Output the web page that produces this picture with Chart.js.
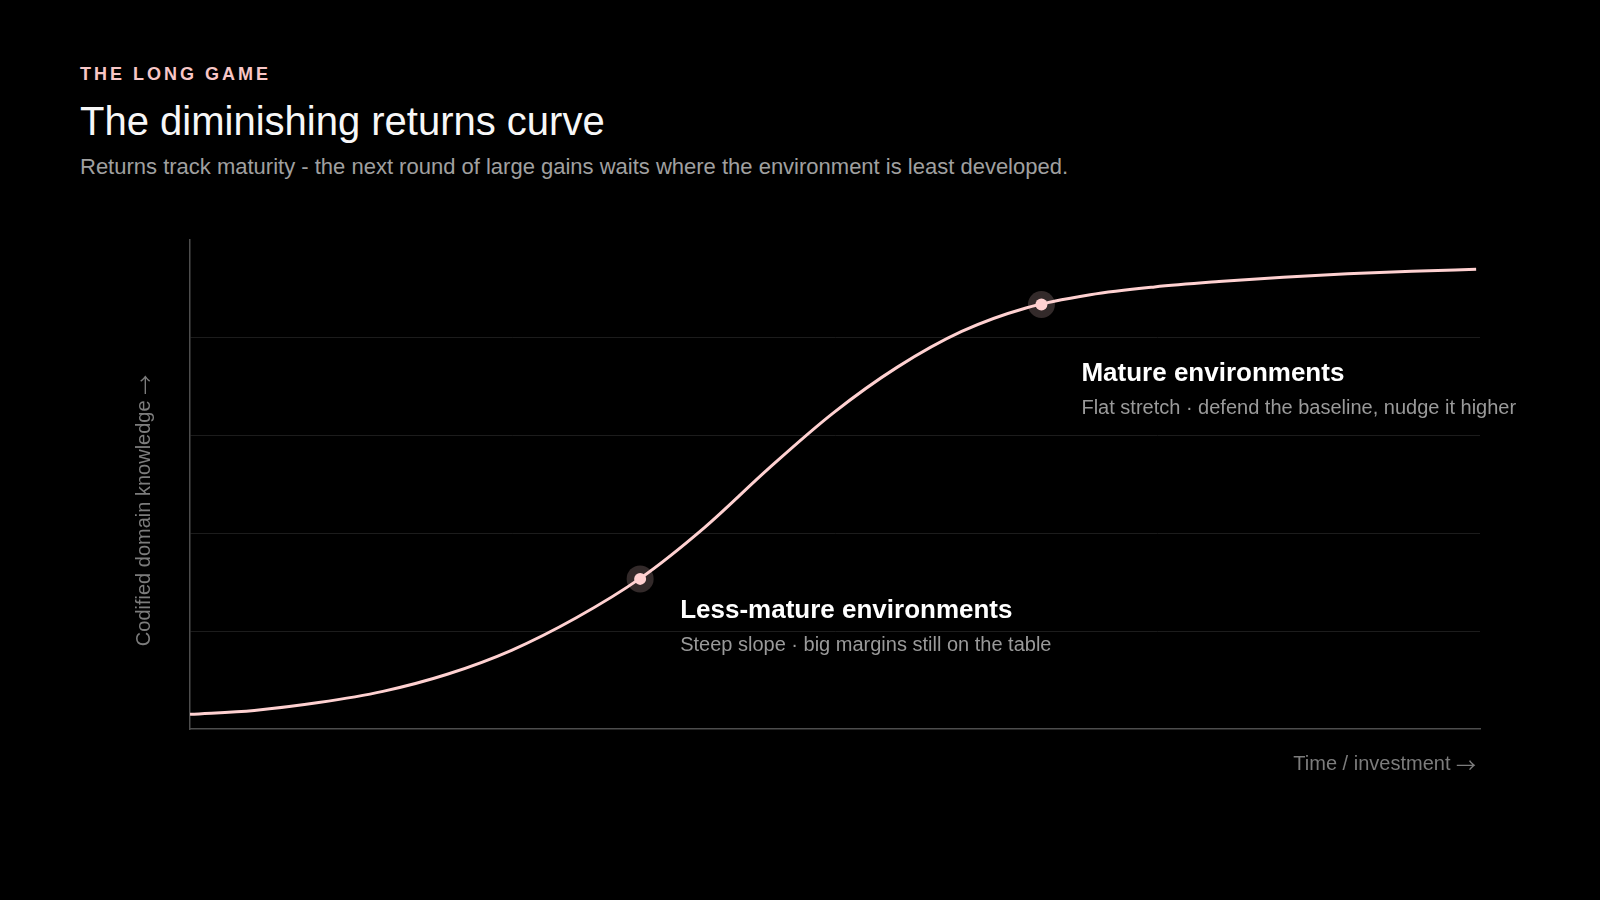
<!DOCTYPE html>
<html>
  <head>
    <title>The diminishing returns curve</title>
    <style>
      html, body{ margin: 0; padding: 0; background-color: #000; overflow: hidden; font-family: "Liberation Sans", Arial, sans-serif; }
      .head{ position: absolute; left: 80px; white-space: nowrap; line-height: 1; }
      .eyebrow{ top: 65px; font-size: 18px; font-weight: bold; letter-spacing: 3px; color: #f8c6c6; }
      .title{ top: 101px; font-size: 40px; color: #f7f7f7; }
      .subtitle{ top: 156px; font-size: 22px; color: #a0a0a0; }
      .chart-box{ position: absolute; left: 0; top: 0; width: 1600px; height: 900px; }
    </style>
    <script src="https://cdn.jsdelivr.net/npm/chart.js"></script>
  </head>
  <body>

    <div class="head eyebrow">THE LONG GAME</div>
    <div class="head title">The diminishing returns curve</div>
    <div class="head subtitle">Returns track maturity - the next round of large gains waits where the environment is least developed.</div>

    <div class="chart-box">
      <canvas id="curveChart"></canvas>
    </div>

    <script>
      // curve (time / investment vs codified knowledge)
      const timeSteps = [0, 5, 10, 15, 20, 25, 30, 35, 40, 45, 50, 55, 60, 65, 70, 75, 80, 85, 90, 95, 100];
      const knowledge = [3.0, 3.8, 5.4, 7.7, 11.2, 16.1, 22.7, 30.8, 41.2, 53.3, 64.6, 74.0, 81.3, 86.1, 88.8, 90.4, 91.5, 92.4, 93.1, 93.6, 94.0];

      // the two highlighted spots on the curve
      const markTime = [35, 66.2];
      const markKnowledge = [30.7, 86.8];
      const markTitles = ['Less-mature environments', 'Mature environments'];
      const markNotes = ['Steep slope · big margins still on the table', 'Flat stretch · defend the baseline, nudge it higher'];

      const xTitle = 'Time / investment ';
      const yTitle = 'Codified domain knowledge ';
      const arrow = '→';

      const FONT = '"Liberation Sans", Arial, sans-serif';
      const ARROW_FONT = '"Noto Sans CJK SC", sans-serif';
      const PINK = '#ffd1d1';

      const curvePoints = timeSteps.map((t, i) => ({ x: t, y: knowledge[i] }));
      const markPoints = markTime.map((t, i) => ({ x: t, y: markKnowledge[i] }));

      // label offsets from each marker, in pixels
      const labelOffsets = [{ dx: 40, dy: 39 }, { dx: 40, dy: 76 }];

      // text + arrow, right edge at x (arrow drawn in a font with a long thin glyph)
      function arrowLabel(ctx, text, right, y) {
        ctx.font = '20px ' + ARROW_FONT;
        const aw = ctx.measureText(arrow).width;
        ctx.textAlign = 'right';
        ctx.fillText(arrow, right, y + 3);
        ctx.font = '20px ' + FONT;
        ctx.fillText(text, right - aw, y);
      }

      const textPlugin = {
        id: 'textPlugin',
        afterDraw(chart) {
          const ctx = chart.ctx;
          const xs = chart.scales.x;
          const ys = chart.scales.y;
          ctx.save();
          ctx.textBaseline = 'alphabetic';

          // annotations
          markPoints.forEach((p, i) => {
            const px = xs.getPixelForValue(p.x) + labelOffsets[i].dx;
            const py = ys.getPixelForValue(p.y) + labelOffsets[i].dy;
            ctx.textAlign = 'left';
            ctx.fillStyle = '#ffffff';
            ctx.font = 'bold 26px ' + FONT;
            ctx.fillText(markTitles[i], px, py);
            ctx.fillStyle = '#9a9a9a';
            ctx.font = '20px ' + FONT;
            ctx.fillText(markNotes[i], px, py + 33);
          });

          // axis titles
          const area = chart.chartArea;
          ctx.fillStyle = '#7c7c7c';
          arrowLabel(ctx, xTitle, area.right - 4, area.bottom + 41);

          ctx.font = '20px ' + FONT;
          const tw = ctx.measureText(yTitle).width;
          ctx.font = '20px ' + ARROW_FONT;
          const aw = ctx.measureText(arrow).width;
          ctx.translate(area.left - 40, (area.top + area.bottom) / 2 + 26);
          ctx.rotate(-Math.PI / 2);
          arrowLabel(ctx, yTitle, (tw + aw) / 2, 0);
          ctx.restore();
        }
      };

      const ctx = document.getElementById('curveChart').getContext('2d');
      const curveChart = new Chart(ctx, {
        type: 'line',
        data: {
          datasets: [
            {
              data: markPoints,
              showLine: false,
              pointRadius: 13.5,
              pointBorderWidth: 0,
              pointBackgroundColor: 'rgba(255, 209, 209, 0.2)',
              order: 3
            },
            {
              data: curvePoints,
              borderColor: PINK,
              borderWidth: 3,
              pointRadius: 0,
              cubicInterpolationMode: 'monotone',
              fill: false,
              order: 2
            },
            {
              data: markPoints,
              showLine: false,
              pointRadius: 6,
              pointBorderWidth: 0,
              pointBackgroundColor: PINK,
              order: 1
            }
          ]
        },
        options: {
          responsive: true,
          maintainAspectRatio: false,
          animation: false,
          layout: { padding: { left: 190, top: 240, right: 120, bottom: 171 } },
          plugins: {
            legend: { display: false },
            tooltip: { enabled: false }
          },
          scales: {
            x: {
              type: 'linear',
              min: 0,
              max: 100.3,
              ticks: { display: false },
              grid: { display: false, drawTicks: false },
              border: { display: true, color: '#4d4d4d', width: 1.5 }
            },
            y: {
              min: 0,
              max: 100,
              ticks: { display: false, stepSize: 20 },
              grid: {
                drawTicks: false,
                color: (c) => (c.tick && (c.tick.value === 0 || c.tick.value === 100)) ? 'rgba(0,0,0,0)' : '#1c1c1c',
                lineWidth: 1
              },
              border: { display: true, color: '#4d4d4d', width: 1.5 }
            }
          }
        },
        plugins: [textPlugin]
      });
    </script>
  </body>
</html>
